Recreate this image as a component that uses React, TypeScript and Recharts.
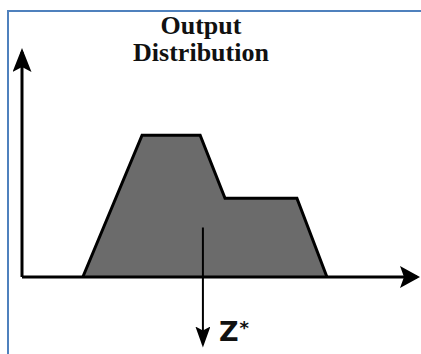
import { ComposedChart, Area, XAxis, YAxis, ReferenceLine } from 'recharts';

// output membership shape (x in % of axis, y as degree of membership)
const shapeX = [15.4, 30.4, 45.1, 51.4, 69.6, 77.2];
const shapeY = [0, 0.63, 0.63, 0.35, 0.35, 0];
const titleLines = ['Output', 'Distribution'];
const zStar = 45.8;
const zLine = [0.22, -0.3];

const data = shapeX.map((x, i) => ({ x, y: shapeY[i] }));

function Arrows() {
  return (
    <svg width={0} height={0} style={{ position: 'absolute' }}>
      <defs>
        <marker id="arrowX" viewBox="0 0 20 22" refX={17} refY={11} markerWidth={20} markerHeight={22} markerUnits="userSpaceOnUse" orient="auto">
          <path d="M0,0 L20,11 L0,22 L4,11 Z" fill="#000" />
        </marker>
        <marker id="arrowY" viewBox="0 0 24 19" refX={20} refY={9.5} markerWidth={24} markerHeight={19} markerUnits="userSpaceOnUse" orient="auto-start-reverse">
          <path d="M0,0 L24,9.5 L0,19 L5,9.5 Z" fill="#000" />
        </marker>
        <marker id="arrowZ" viewBox="0 0 21 15" refX={18} refY={7.5} markerWidth={21} markerHeight={15} markerUnits="userSpaceOnUse" orient="auto">
          <path d="M0,0 L21,7.5 L0,15 L4,7.5 Z" fill="#000" />
        </marker>
      </defs>
    </svg>
  );
}

export default function App() {
  return (
    <div style={{ position: 'absolute', left: 0, top: 0, width: 421, height: 354, background: '#fff', overflow: 'hidden' }}>
      <Arrows />
      {/* picture frame, top and left edges only */}
      <div style={{ position: 'absolute', left: 7, top: 10, width: 414, height: 2, background: '#4f81bd' }} />
      <div style={{ position: 'absolute', left: 7, top: 10, width: 2, height: 344, background: '#4f81bd' }} />
      <div style={{ position: 'absolute', left: 81, top: 12, width: 240, textAlign: 'center', fontFamily: '"Liberation Serif", serif', fontWeight: 'bold', fontSize: 26, lineHeight: '27px', color: '#111' }}>
        {titleLines.map((t) => <div key={t}>{t}</div>)}
      </div>
      <ComposedChart width={421} height={354} data={data} margin={{ top: 52, right: 4, bottom: 76, left: 21 }} style={{ position: 'absolute', left: 0, top: 0 }}>
        <XAxis
          dataKey="x"
          type="number"
          domain={[0, 100]}
          height={1}
          tick={false}
          tickLine={false}
          axisLine={{ stroke: '#000', strokeWidth: 3, markerEnd: 'url(#arrowX)' }}
        />
        <YAxis
          type="number"
          domain={[0, 1]}
          width={1}
          tick={false}
          tickLine={false}
          axisLine={{ stroke: '#000', strokeWidth: 3, markerStart: 'url(#arrowY)' }}
        />
        <Area
          type="linear"
          dataKey="y"
          stroke="#000"
          strokeWidth={3}
          fill="#6b6b6b"
          fillOpacity={1}
          isAnimationActive={false}
        />
        <ReferenceLine
          segment={[{ x: zStar, y: zLine[0] }, { x: zStar, y: zLine[1] }]}
          ifOverflow="visible"
          shape={(p: any) => (
            <line x1={p.x1} y1={p.y1} x2={p.x2} y2={p.y2} stroke="#000" strokeWidth={2} markerEnd="url(#arrowZ)" />
          )}
        />
      </ComposedChart>
      <div style={{ position: 'absolute', left: 219, top: 316, fontFamily: '"DejaVu Sans", sans-serif', fontWeight: 'bold', fontSize: 27, lineHeight: '32px', color: '#111' }}>
        Z<sup style={{ fontSize: 18, verticalAlign: 'top', position: 'relative', top: -4, marginLeft: 1 }}>*</sup>
      </div>
    </div>
  );
}
